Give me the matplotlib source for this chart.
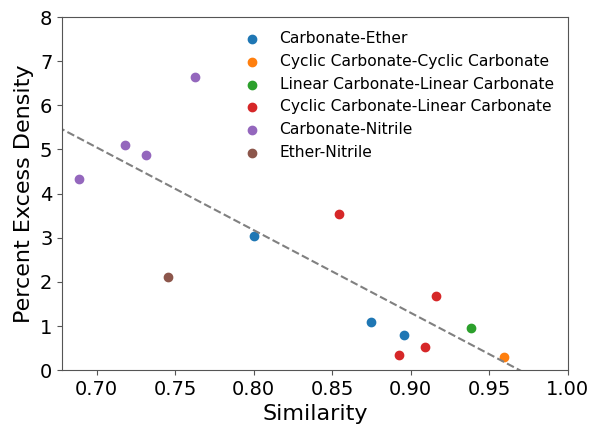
import numpy as np
import matplotlib
matplotlib.use('Agg')
import matplotlib.pyplot as plt

# ── Data ──────────────────────────────────────────────────────────────────────
groups = [
    'Carbonate-Ether',
    'Cyclic Carbonate-Cyclic Carbonate',
    'Linear Carbonate-Linear Carbonate',
    'Cyclic Carbonate-Linear Carbonate',
    'Carbonate-Nitrile',
    'Ether-Nitrile',
]
similarity = [
    [0.8005, 0.875, 0.8955],
    [0.9594],
    [0.9385],
    [0.8543, 0.9163, 0.8923, 0.9094],
    [0.6885, 0.718, 0.7315, 0.7625],
    [0.7455],
]
excess_density = [
    [3.04, 1.09, 0.79],
    [0.29],
    [0.95],
    [3.54, 1.68, 0.34, 0.52],
    [4.33, 5.10, 4.875, 6.64],
    [2.11],
]

# ── Plot ──────────────────────────────────────────────────────────────────────
fig = plt.figure(figsize=(5.92, 4.26), dpi=100)
ax = fig.add_axes([0.105, 0.131, 0.854, 0.829])

for name, xs, ys in zip(groups, similarity, excess_density):
    ax.scatter(xs, ys, label=name)

# trend line fitted through all points
all_x = np.concatenate([np.array(v) for v in similarity])
all_y = np.concatenate([np.array(v) for v in excess_density])
slope, intercept = np.polyfit(all_x, all_y, 1)
xline = np.linspace(0.6, 1.0, 100)
ax.plot(xline, slope * xline + intercept, '--', color='gray')

ax.set_xlim(0.678, 1.0)
ax.set_ylim(0, 8)
ax.set_xlabel('Similarity', fontsize=16)
ax.set_ylabel('Percent Excess Density', fontsize=16)
ax.tick_params(labelsize=14, color='#555555')
for sp in ax.spines.values():
    sp.set_color('#555555')
ax.legend(loc='upper right', frameon=False, fontsize=11.2)

plt.savefig('out.png', dpi=100)
